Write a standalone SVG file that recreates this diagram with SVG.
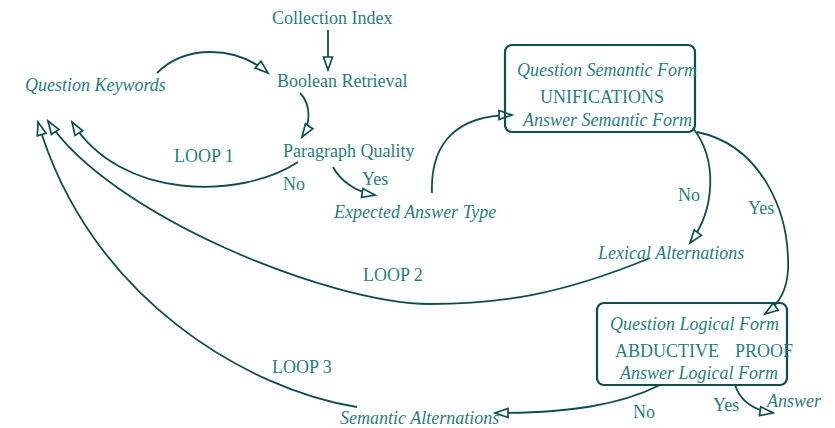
<svg xmlns="http://www.w3.org/2000/svg" width="835" height="428" viewBox="0 0 835 428">
<defs>
<marker id="ah" markerUnits="userSpaceOnUse" markerWidth="16" markerHeight="12" refX="14" refY="5.5" orient="auto" overflow="visible">
<path d="M1,1 L14,5.5 L1,10 Z" fill="#ffffff" stroke="#0c4f50" stroke-width="1.7" stroke-linejoin="miter"/>
</marker>
</defs>
<style>
text{font-family:"Liberation Serif","Times New Roman",serif;font-size:18px;fill:#1f7f7f}
.it{font-style:italic}
.c{fill:none;stroke:#0c4f50;stroke-width:1.8}
.a{marker-end:url(#ah)}
.box{fill:none;stroke:#0c4f50;stroke-width:2.2}
</style>
<rect width="835" height="428" fill="#ffffff"/>
<g id="connectors">
<path class="c a" d="M328,30 L328,70"/>
<path class="c a" d="M157,73 C185,45 235,45 268,73"/>
<path class="c a" d="M300,93 C312,105 310,125 302,137"/>
<path class="c a" d="M298,162 C240,200 120,200 72,122"/>
<path class="c a" d="M333,167 C340,180 355,192 375,195"/>
<path class="c a" d="M432,193 C430,140 460,115 512,115"/>
<path class="c a" d="M693,128 C718,160 715,210 690,243"/>
<path class="c a" d="M697,132 C760,145 790,210 788,270 C787,290 778,305 765,314"/>
<path class="c a" d="M650,258 C560,295 500,304 430,304 C330,304 110,215 48,121"/>
<path class="c a" d="M357,407 C250,390 90,300 38,122"/>
<path class="c a" d="M660,385 C620,405 570,413 495,413"/>
<path class="c a" d="M735,385 C740,400 752,410 773,413"/>
</g>
<g id="collection-index"><text x="272" y="24">Collection Index</text></g>
<g id="boolean-retrieval"><text x="277" y="87">Boolean Retrieval</text></g>
<g id="question-keywords"><text class="it" x="25" y="91">Question Keywords</text></g>
<g id="paragraph-quality"><text x="283" y="157">Paragraph Quality</text></g>
<g id="expected-answer-type"><text class="it" x="334" y="218">Expected Answer Type</text></g>
<g id="unifications">
<rect class="box" x="505" y="45" width="190" height="87" rx="7"/>
<text class="it" x="517" y="76">Question Semantic Form</text>
<text x="540" y="103">UNIFICATIONS</text>
<text class="it" x="523" y="126">Answer Semantic Form</text>
</g>
<g id="lexical-alternations"><text class="it" x="598" y="259">Lexical Alternations</text></g>
<g id="abductive-proof">
<rect class="box" x="597" y="303" width="190" height="82" rx="7"/>
<text class="it" x="610" y="330">Question Logical Form</text>
<text x="615" y="357">ABDUCTIVE</text>
<text x="735" y="357">PROOF</text>
<text class="it" x="620" y="379">Answer Logical Form</text>
</g>
<g id="semantic-alternations"><text class="it" x="340" y="424">Semantic Alternations</text></g>
<g id="answer"><text class="it" x="767" y="407">Answer</text></g>
<g id="labels">
<text x="174" y="162">LOOP 1</text>
<text x="363" y="281">LOOP 2</text>
<text x="272" y="373">LOOP 3</text>
<text x="283" y="190">No</text>
<text x="362" y="185">Yes</text>
<text x="678" y="201">No</text>
<text x="748" y="214">Yes</text>
<text x="633" y="418">No</text>
<text x="713" y="411">Yes</text>
</g>
</svg>
